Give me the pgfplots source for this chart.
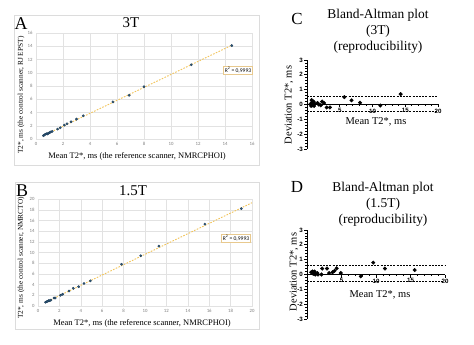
\documentclass[border=0pt]{standalone}
\usepackage{pgfplots}
\pgfplotsset{compat=1.18}
\usepackage{fontspec}
\setmainfont{Liberation Serif}
\newfontfamily\calibri{Carlito}
\newfontfamily\arial{Liberation Sans}
\definecolor{gridgray}{HTML}{E2E2E2}
\definecolor{panelgray}{HTML}{DCDCDC}
\definecolor{tickgray}{HTML}{7F7F7F}
\definecolor{trendc}{HTML}{F2C45A}
\definecolor{markc}{HTML}{2E5A7E}
\definecolor{markd}{HTML}{1C3A55}
\definecolor{rbox}{HTML}{E8C98E}
\pgfplotsset{
  excel/.style={scale only axis, anchor=south west, axis line style={draw=gridgray},
    grid=major, major grid style={draw=gridgray, line width=0.4bp},
    tick style={draw=none},
    ticklabel style={font=\calibri\fontsize{4.8}{5}\selectfont, text=tickgray},
    /pgf/number format/assume math mode=true},
  exmark/.style={only marks, mark=*, mark size=1.2bp, mark options={fill=markc, draw=markd, line width=0.3bp}},
  trend/.style={trendc, line width=0.9bp, dash pattern=on 1.6bp off 1.4bp},
  ba/.style={scale only axis, anchor=south west, axis x line=middle, axis y line=left,
    axis line style={-, line width=1bp}, xmin=0, xmax=20, ymin=-3, ymax=3,
    xtick={5,10,15,20}, ytick={-3,-2,-1,0,1,2,3}, minor x tick num=4, minor y tick num=4,
    tick align=outside, major tick length=3bp, minor tick length=1.6bp,
    every tick/.style={line width=0.8bp, black},
    ticklabel style={font=\arial\bfseries\fontsize{6.2}{7}\selectfont, inner sep=1bp},
    /pgf/number format/assume math mode=true,
    enlargelimits=false, clip=false},
  bamark/.style={only marks, mark=*, mark size=1.8bp, mark options={fill=black, draw=black}},
  badash/.style={black, line width=0.8bp, dash pattern=on 2bp off 1.2bp},
}
\begin{document}
\begin{tikzpicture}
\useasboundingbox (0,0) rectangle (474bp,-345bp);
\fill[white] (0,0) rectangle (474bp,-345bp);
\draw[panelgray, line width=0.6bp] (14bp,-15bp) rectangle (259bp,-165bp);
\draw[panelgray, line width=0.6bp] (15bp,-182bp) rectangle (259bp,-329bp);

% ---------- A ----------
\begin{axis}[excel, at={(36bp,-139bp)}, width=216bp, height=106bp,
  xmin=0, xmax=16, ymin=0, ymax=16, xtick={0,2,...,16}, ytick={0,2,...,16}]
\addplot[trend] coordinates {(0.5,0.45) (14.5,14.15)};
\addplot[exmark] table {
x y
0.55 0.50
0.62 0.62
0.70 0.72
0.78 0.80
0.85 0.75
0.92 0.88
1.00 0.95
1.08 1.05
1.20 1.15
1.60 1.50
1.80 1.70
2.10 2.10
2.30 2.30
2.60 2.60
3.00 3.00
3.50 3.50
5.70 5.60
6.90 6.60
8.00 7.90
11.50 11.20
14.50 14.10
};
\end{axis}
\node[draw=rbox, fill=white, inner sep=1.2bp, font=\calibri\fontsize{5.6}{6}\selectfont] at (238bp,-70bp) {R\textsuperscript{2} = 0,9993};
\node[font=\fontsize{18}{20}\selectfont] at (21bp,-24bp) {A};
\node[font=\fontsize{15}{17}\selectfont] at (131bp,-23bp) {3T};
\node[font=\fontsize{8.5}{10}\selectfont] at (137bp,-156bp) {Mean T2*, ms (the reference scanner, NMRCPHOI)};
\node[font=\fontsize{7.4}{9}\selectfont, rotate=90] at (21bp,-95bp) {T2*, ms (the control scanner, RJ EPST)};

% ---------- B ----------
\begin{axis}[excel, at={(38bp,-306bp)}, width=214bp, height=107bp,
  xmin=0, xmax=20, ymin=0, ymax=20, xtick={0,2,...,20}, ytick={0,2,...,20}]
\addplot[trend] coordinates {(0.7,0.68) (20,19.3)};
\addplot[exmark] table {
x y
0.70 0.70
0.80 0.80
0.90 0.88
1.00 1.00
1.10 1.00
1.20 1.10
1.50 1.50
1.60 1.50
2.10 2.00
2.30 2.20
2.90 2.80
3.30 3.30
3.80 3.60
4.30 4.20
4.90 4.70
7.80 7.80
9.60 9.40
11.30 11.20
15.60 15.30
19.00 18.20
};
\end{axis}
\node[draw=rbox, fill=white, inner sep=1.2bp, font=\calibri\fontsize{5.6}{6}\selectfont] at (236bp,-238bp) {R\textsuperscript{2} = 0,9993};
\node[font=\fontsize{18}{20}\selectfont] at (22bp,-191bp) {B};
\node[font=\fontsize{15}{17}\selectfont] at (133bp,-191bp) {1.5T};
\node[font=\fontsize{8.5}{10}\selectfont] at (142bp,-323bp) {Mean T2*, ms (the reference scanner, NMRCPHOI)};
\node[font=\fontsize{7.4}{9}\selectfont, rotate=90] at (21bp,-258bp) {T2*, ms (the control scanner, NMRCTO)};

% ---------- C ----------
\begin{axis}[ba, at={(307bp,-149bp)}, width=131bp, height=89bp]
\addplot[badash] coordinates {(0,0.55) (20,0.55)};
\addplot[badash] coordinates {(0,-0.48) (20,-0.48)};
\addplot[bamark] table {
x y
0.55 0.05
0.62 -0.10
0.70 0.30
0.78 0.15
0.85 -0.05
0.92 0.10
1.00 0.20
1.08 -0.10
1.20 0.05
1.60 0.10
1.80 0.00
2.10 -0.05
2.30 0.20
2.60 0.10
3.00 -0.20
3.50 -0.20
5.70 0.50
6.80 0.28
8.10 0.12
11.20 -0.07
14.30 0.70
};
\end{axis}
\node[font=\fontsize{17}{19}\selectfont] at (297bp,-19bp) {C};
\node[font=\fontsize{13.5}{16}\selectfont, align=center] at (378bp,-31bp) {Bland-Altman plot\\(3T)\\(reproducibility)};
\node[font=\fontsize{10.5}{12}\selectfont] at (376bp,-122bp) {Mean T2*, ms};
\node[font=\fontsize{10.5}{12}\selectfont, rotate=90] at (289bp,-105bp) {Deviation T2*, ms};

% ---------- D ----------
\begin{axis}[ba, at={(307bp,-319bp)}, width=138bp, height=89bp]
\addplot[badash] coordinates {(0,0.6) (20,0.6)};
\addplot[badash] coordinates {(0,-0.45) (20,-0.45)};
\addplot[bamark] table {
x y
0.60 0.15
0.80 0.20
0.90 0.05
1.00 0.15
1.10 0.20
1.20 0.00
1.50 0.10
1.60 0.00
2.10 0.00
2.20 0.40
2.90 0.40
3.20 0.10
3.70 0.15
4.00 0.25
4.30 0.42
4.90 0.10
7.80 -0.12
9.60 0.80
11.30 0.40
15.60 0.30
};
\end{axis}
\node[font=\fontsize{17}{19}\selectfont] at (297bp,-187bp) {D};
\node[font=\fontsize{13.5}{16}\selectfont, align=center] at (383bp,-204bp) {Bland-Altman plot\\(1.5T)\\(reproducibility)};
\node[font=\fontsize{10.5}{12}\selectfont] at (380bp,-295bp) {Mean T2*, ms};
\node[font=\fontsize{10.5}{12}\selectfont, rotate=90] at (294bp,-272bp) {Deviation T2*, ms};
\end{tikzpicture}
\end{document}
